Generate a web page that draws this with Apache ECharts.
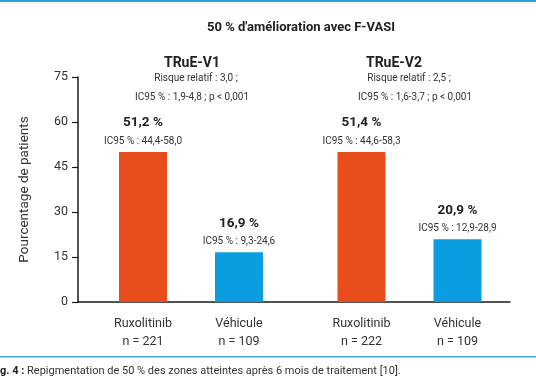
<!DOCTYPE html>
<html>
<head>
<meta charset="utf-8">
<script src="https://cdn.jsdelivr.net/npm/echarts@6/dist/echarts.min.js"></script>
<style>
html,body{margin:0;padding:0;background:#fff;}
#chart{width:536px;height:386px;}
</style>
</head>
<body>
<div id="chart"></div>
<script>
// ---- data ----
const mainTitle = "50 % d'amélioration avec F-VASI";
const trials = ['TRuE-V1', 'TRuE-V2'];
const riskLines = ['Risque relatif : 3,0 ;', 'Risque relatif : 2,5 ;'];
const riskCI = ['IC95 % : 1,9-4,8 ; p < 0,001', 'IC95 % : 1,6-3,7 ; p < 0,001'];
const groups = ['Ruxolitinib', 'Véhicule'];
const nV1 = [221, 109];
const nV2 = [222, 109];
const valuesV1 = [50, 16.6];   // bar heights
const valuesV2 = [50, 20.9];
const pctV1 = ['51,2 %', '16,9 %'];
const pctV2 = ['51,4 %', '20,9 %'];
const ciV1 = ['IC95 % : 44,4-58,0', 'IC95 % : 9,3-24,6'];
const ciV2 = ['IC95 % : 44,6-58,3', 'IC95 % : 12,9-28,9'];
const yTicks = [0, 15, 30, 45, 60, 75];
const yName = 'Pourcentage de patients';
const caption = 'Repigmentation de 50 % des zones atteintes après 6 mois de traitement [10].';

const colors = ['#E84E1B', '#0A9EE0'];
const FONT = 'Roboto, "Noto Sans", sans-serif';

function cats(n) { return groups.map((g, i) => g + '\nn = ' + n[i]); }
function barData(vals, pcts, cis) {
  return vals.map((v, i) => ({
    value: v,
    itemStyle: { color: colors[i] },
    label: { formatter: '{p|' + pcts[i] + '}\n{c|' + cis[i] + '}' }
  }));
}

const chart = echarts.init(document.getElementById('chart'), null, { renderer: 'canvas' });

const hiddenY = (min, max) => ({ type: 'value', min: min, max: max, show: false });

const catAxis = (gi, n) => ({
  type: 'category', gridIndex: gi, data: cats(n),
  axisLine: { show: false }, axisTick: { show: false },
  axisLabel: { color: '#333', fontSize: 12.5, fontFamily: FONT, margin: 13, lineHeight: 18, interval: 0 }
});

const barLabel = {
  show: true, position: 'top', distance: 4,
  rich: {
    p: { fontSize: 13.5, fontWeight: 'bold', color: '#222', fontFamily: FONT, lineHeight: 22, align: 'center' },
    c: { fontSize: 10, color: '#333', fontFamily: FONT, lineHeight: 14, align: 'center' }
  }
};

function txt(x, y, text, size, weight, color) {
  return {
    type: 'text', x: x, y: y, silent: true,
    style: {
      text: text, fill: color || '#222',
      font: (weight || 'normal') + ' ' + size + 'px ' + FONT,
      align: 'center', verticalAlign: 'middle',
      textAlign: 'center', textVerticalAlign: 'middle'
    }
  };
}

const option = {
  animation: false,
  backgroundColor: '#fff',
  grid: [
    { left: 78, right: 26, top: 77, bottom: 84 },
    { left: 95, width: 192, top: 77, bottom: 84 },
    { left: 313.5, width: 192, top: 77, bottom: 84 }
  ],
  xAxis: [
    { type: 'value', gridIndex: 0, min: 0, max: 1,
      axisLine: { show: true, onZero: false, lineStyle: { color: '#1a1a1a', width: 1.5 } },
      axisTick: { show: false }, axisLabel: { show: false }, splitLine: { show: false } },
    catAxis(1, nV1),
    catAxis(2, nV2)
  ],
  yAxis: [
    { type: 'value', gridIndex: 0, min: 0, max: 75, interval: 15,
      name: yName, nameLocation: 'middle', nameGap: 46,
      nameTextStyle: { color: '#333', fontSize: 13.5, fontFamily: FONT },
      axisLine: { show: true, lineStyle: { color: '#1a1a1a', width: 1.5 } },
      axisTick: { show: true, length: 6, lineStyle: { color: '#1a1a1a', width: 1.2 } },
      axisLabel: { color: '#333', fontSize: 12.5, fontFamily: FONT, margin: 10 },
      splitLine: { show: false } },
    Object.assign(hiddenY(0, 75), { gridIndex: 1 }),
    Object.assign(hiddenY(0, 75), { gridIndex: 2 })
  ],
  series: [
    { type: 'bar', name: trials[0], xAxisIndex: 1, yAxisIndex: 1, barWidth: 48,
      data: barData(valuesV1, pctV1, ciV1), label: barLabel },
    { type: 'bar', name: trials[1], xAxisIndex: 2, yAxisIndex: 2, barWidth: 48,
      data: barData(valuesV2, pctV2, ciV2), label: barLabel }
  ],
  graphic: [
    { type: 'rect', shape: { x: 0, y: 0, width: 536, height: 2 }, style: { fill: '#2A9FD8' }, silent: true },
    { type: 'rect', shape: { x: 0, y: 3, width: 536, height: 1 }, style: { fill: '#FBF2D6' }, silent: true },
    { type: 'rect', shape: { x: 0, y: 356, width: 536, height: 1.5 }, style: { fill: '#3AA8DC' }, silent: true },
    txt(301, 28, mainTitle, 13, 'bold', '#222'),
    txt(192, 63, trials[0], 14, 'bold', '#222'),
    txt(394, 63, trials[1], 14, 'bold', '#222'),
    txt(196, 78, riskLines[0], 10, 'normal', '#333'),
    txt(409, 78, riskLines[1], 10, 'normal', '#333'),
    txt(192, 97, riskCI[0], 10, 'normal', '#333'),
    txt(415, 97, riskCI[1], 10, 'normal', '#333'),
    {
      type: 'text', x: 0, y: 371, silent: true,
      style: {
        text: '{b|g. 4 :} ' + caption,
        fill: '#333', font: '11px ' + FONT,
        verticalAlign: 'middle', textVerticalAlign: 'middle',
        rich: { b: { fontWeight: 'bold', fontSize: 11, fill: '#222', fontFamily: FONT } }
      }
    }
  ]
};
chart.setOption(option);
</script>
</body>
</html>
